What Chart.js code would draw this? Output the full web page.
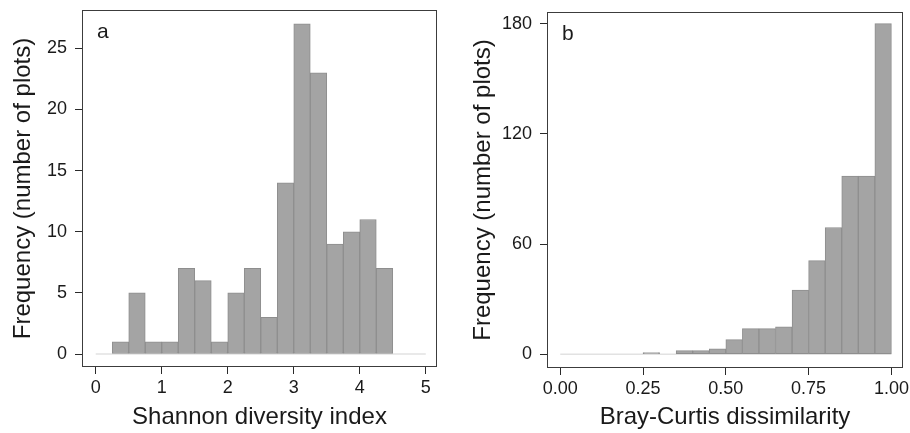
<!DOCTYPE html>
<html>
<head>
<meta charset="utf-8">
<script src="https://cdn.jsdelivr.net/npm/chart.js@4.4.1/dist/chart.umd.min.js"></script>
<style>
  html, body { margin: 0; padding: 0; background: #fff; }
  #wrap { position: relative; width: 910px; height: 433px; overflow: hidden; }
  .panel { position: absolute; top: 0; width: 455px; height: 433px; }
</style>
</head>
<body>
<div id="wrap">
  <div class="panel" style="left:0"><canvas id="chartA" width="455" height="433"></canvas></div>
  <div class="panel" style="left:455px"><canvas id="chartB" width="455" height="433"></canvas></div>
</div>
<script>
// panel a: Shannon diversity index, bins of 0.25
const shannonMid = [0.375, 0.625, 0.875, 1.125, 1.375, 1.625, 1.875, 2.125, 2.375,
  2.625, 2.875, 3.125, 3.375, 3.625, 3.875, 4.125, 4.375];
const shannonCounts = [1, 5, 1, 1, 7, 6, 1, 5, 7, 3, 14, 27, 23, 9, 10, 11, 7];
const shannonBase = [0, 5];
const shannonTicks = [0, 1, 2, 3, 4, 5];
const shannonFreqTicks = [0, 5, 10, 15, 20, 25];

// panel b: Bray-Curtis dissimilarity, bins of 0.05
const brayMid = [0.275, 0.325, 0.375, 0.425, 0.475, 0.525, 0.575, 0.625, 0.675,
  0.725, 0.775, 0.825, 0.875, 0.925, 0.975];
const brayCounts = [1, 0, 2, 2, 3, 8, 14, 14, 15, 35, 51, 69, 97, 97, 180];
const brayBase = [0, 1];
const brayTicks = [0, 0.25, 0.5, 0.75, 1];
const brayFreqTicks = [0, 60, 120, 180];

Chart.defaults.font.family = '"Liberation Sans", Arial, Helvetica, sans-serif';
Chart.defaults.color = '#1a1a1a';

const ink = '#2a2a2a';

// box round the plot area plus the panel letter
const framePlugin = {
  id: 'frame',
  afterDatasetsDraw(chart, args, opts) {
    const { ctx, chartArea: a } = chart;
    ctx.save();
    ctx.strokeStyle = '#3c3c3c';
    ctx.lineWidth = 1;
    ctx.strokeRect(a.left + 0.5, a.top + 0.5, a.right - a.left - 1, a.bottom - a.top - 1);
    ctx.fillStyle = '#1a1a1a';
    ctx.font = '21px "Liberation Sans", Arial, sans-serif';
    ctx.textBaseline = 'alphabetic';
    ctx.fillText(opts.letter, a.left + 15, a.top + 28);
    ctx.restore();
  }
};

function histogram(id, p) {
  const fixTicks = (list) => (scale) => { scale.ticks = list.map(v => ({ value: v })); };
  return new Chart(document.getElementById(id), {
    type: 'bar',
    data: {
      datasets: [
        {
          type: 'bar',
          data: p.mids.map((m, i) => ({ x: m, y: p.counts[i] })),
          backgroundColor: '#a4a4a4',
          borderColor: '#8e8e8e',
          borderWidth: 1,
          borderSkipped: false,
          barPercentage: 1,
          categoryPercentage: 1,
          order: 1
        },
        {
          type: 'line',
          data: p.base.map(v => ({ x: v, y: 0 })),
          borderColor: '#e2e2e2',
          borderWidth: 1.5,
          pointRadius: 0,
          order: 2
        }
      ]
    },
    options: {
      responsive: false,
      animation: false,
      events: [],
      layout: { padding: { top: p.top, right: p.right, left: 0, bottom: 0 } },
      plugins: { legend: { display: false }, tooltip: { enabled: false }, frame: { letter: p.letter } },
      scales: {
        x: {
          type: 'linear',
          offset: false,
          min: p.xMin, max: p.xMax,
          afterBuildTicks: fixTicks(p.xTicks),
          afterFit(s) { s.height = p.xHeight; s.paddingLeft = 0; s.paddingRight = 0; },
          grid: { offset: false, drawOnChartArea: false, drawTicks: true, tickLength: 7, tickColor: ink, tickWidth: 1 },
          border: { display: false },
          ticks: { font: { size: 18 }, padding: 3, maxRotation: 0, autoSkip: false, callback: p.xFmt },
          title: { display: true, text: p.xTitle, font: { size: 24 }, padding: { top: 0, bottom: 1 } }
        },
        y: {
          min: p.yMin, max: p.yMax,
          afterBuildTicks: fixTicks(p.yTicks),
          afterFit(s) { s.width = p.yWidth; s.paddingTop = 0; s.paddingBottom = 0; },
          grid: { drawOnChartArea: false, drawTicks: true, tickLength: 7, tickColor: ink, tickWidth: 1 },
          border: { display: false },
          ticks: { font: { size: 18 }, padding: 8, autoSkip: false, callback: v => String(v) },
          title: { display: true, text: 'Frequency (number of plots)', font: { size: 24 }, padding: { top: p.yTitlePad, bottom: 0 } }
        }
      }
    },
    plugins: [framePlugin]
  });
}

histogram('chartA', {
  mids: shannonMid, counts: shannonCounts, base: shannonBase,
  xTicks: shannonTicks, yTicks: shannonFreqTicks,
  xMin: -0.208, xMax: 5.17, yMin: -1.06, yMax: 28.13,
  xFmt: v => String(v), xTitle: 'Shannon diversity index', letter: 'a',
  top: 10, right: 18, xHeight: 66, yWidth: 82, yTitlePad: 8.5
});

histogram('chartB', {
  mids: brayMid, counts: brayCounts, base: brayBase,
  xTicks: brayTicks, yTicks: brayFreqTicks,
  xMin: -0.04, xMax: 1.035, yMin: -7.46, yMax: 186.3,
  xFmt: v => v.toFixed(2), xTitle: 'Bray-Curtis dissimilarity', letter: 'b',
  top: 12, right: 7, xHeight: 65, yWidth: 92, yTitlePad: 14
});
</script>
</body>
</html>
